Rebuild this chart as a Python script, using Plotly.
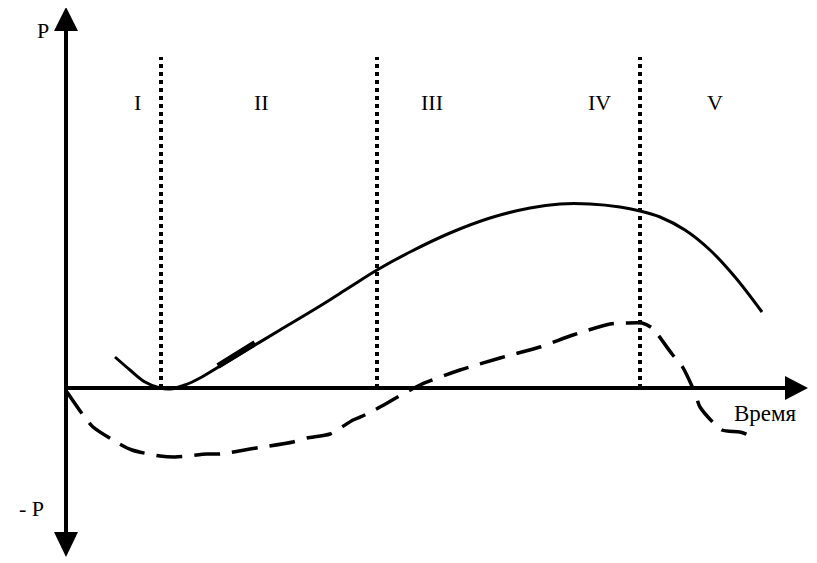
import plotly.graph_objects as go

# coordinate system: origin at axes crossing, x = time, y = profit
sales_x = [49, 64, 79, 94, 104, 119, 134, 154, 184, 214, 254, 284, 311, 344, 384, 424, 464, 494, 524, 554, 574, 594, 619, 644, 669, 696]
sales_y = [31, 18, 6, 0, -1, 3, 10, 22, 40, 58, 82, 101, 118, 136, 155, 170, 180, 184, 184, 181, 177, 171, 158, 138, 111, 76]

profit_x = [1, 17, 27, 52, 66, 94, 109, 141, 154, 184, 197, 227, 241, 264, 287, 301, 314, 354, 394, 434, 474, 507, 544, 560, 576, 586, 606, 616, 629, 634, 656, 674, 687]
profit_y = [-4, -27, -39, -55, -62, -68, -69, -66, -66, -61, -59, -54, -50, -46, -32, -26, -19, 3, 18, 30, 41, 53, 64, 65, 65, 60, 34, 22, -5, -19, -42, -44, -49]

glitch_x = [152, 189]
glitch_y = [22, 45]

stage_bounds = [95, 311, 574]
stage_labels = ["I", "II", "III", "IV", "V"]
stage_label_x = [71, 195, 366, 533, 649]
stage_label_y = 286

fig = go.Figure()

fig.add_trace(go.Scatter(x=sales_x, y=sales_y, mode="lines", line=dict(color="black", width=3, shape="spline"), hoverinfo="skip"))
fig.add_trace(go.Scatter(x=glitch_x, y=glitch_y, mode="lines", line=dict(color="black", width=6), hoverinfo="skip"))
fig.add_trace(go.Scatter(x=profit_x, y=profit_y, mode="lines", line=dict(color="black", width=3.5, shape="spline", smoothing=0.7, dash="26px,12px"), hoverinfo="skip"))

# axes lines
fig.add_shape(type="line", x0=0, x1=0, y0=-150, y1=360, line=dict(color="black", width=4))
fig.add_shape(type="line", x0=0, x1=722, y0=0, y1=0, line=dict(color="black", width=4))
# arrowheads
fig.add_shape(type="path", path="M -12 357 L 12 357 L 0 381 Z", fillcolor="black", line=dict(width=0))
fig.add_shape(type="path", path="M -12 -144 L 12 -144 L 0 -169 Z", fillcolor="black", line=dict(width=0))
fig.add_shape(type="path", path="M 719 12 L 719 -12 L 742 0 Z", fillcolor="black", line=dict(width=0))

# stage dividers
for xb in stage_bounds:
    fig.add_shape(type="line", x0=xb, x1=xb, y0=0, y1=331, line=dict(color="black", width=4, dash="4px,4px"))

serif = "Liberation Serif, Times New Roman, Times, serif"
font = dict(family=serif, size=22, color="black")
for lab, lx in zip(stage_labels, stage_label_x):
    fig.add_annotation(x=lx, y=stage_label_y, text=lab, showarrow=False, font=font)

fig.add_annotation(x=-23, y=358, text="P", showarrow=False, font=font)
fig.add_annotation(x=-35, y=-120, text="- P", showarrow=False, font=font)
fig.add_annotation(x=699, y=-25, text="Время", showarrow=False, font=dict(family=serif, size=23, color="black"))

# page body has an 8px margin; size the figure to fit the window and shift ranges
fig.update_layout(
    width=809, height=555,
    margin=dict(l=0, r=0, t=0, b=0),
    paper_bgcolor="white", plot_bgcolor="white",
    showlegend=False,
    xaxis=dict(range=[-58, 751], visible=False, fixedrange=True),
    yaxis=dict(range=[-175, 380], visible=False, fixedrange=True),
)

fig.write_html("out.html")
